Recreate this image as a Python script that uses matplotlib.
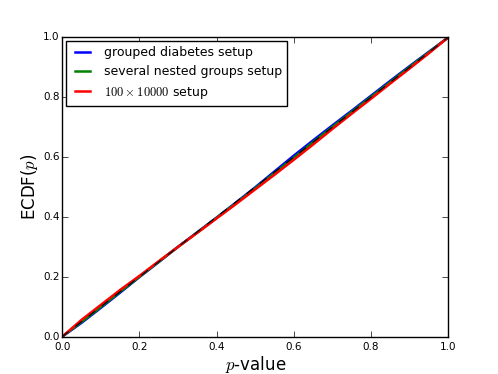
import matplotlib
matplotlib.use("Agg")
import matplotlib.pyplot as plt

# p-value grid and ECDF values
pvals = [0.0, 0.05, 0.10, 0.15, 0.20, 0.25, 0.30, 0.35, 0.40, 0.45, 0.50,
         0.55, 0.60, 0.65, 0.70, 0.75, 0.80, 0.85, 0.90, 0.95, 1.0]
ecdf_diabetes = [0.0, 0.046, 0.096, 0.147, 0.199, 0.249, 0.300, 0.349, 0.398, 0.448, 0.499,
                 0.552, 0.605, 0.656, 0.706, 0.755, 0.805, 0.855, 0.904, 0.952, 1.0]
ecdf_nested = [0.0, 0.049, 0.099, 0.150, 0.200, 0.250, 0.300, 0.348, 0.397, 0.446, 0.496,
               0.547, 0.598, 0.650, 0.701, 0.751, 0.801, 0.851, 0.901, 0.950, 1.0]
ecdf_100x10000 = [0.0, 0.056, 0.106, 0.156, 0.203, 0.252, 0.300, 0.347, 0.395, 0.443, 0.492,
                  0.541, 0.591, 0.642, 0.694, 0.745, 0.795, 0.846, 0.896, 0.947, 1.0]
labels = ["grouped diabetes setup", "several nested groups setup", r"$100\times10000$ setup"]
ticks = [0.0, 0.2, 0.4, 0.6, 0.8, 1.0]

plt.style.use("classic")
plt.rcParams["figure.facecolor"] = "white"
plt.rcParams["savefig.facecolor"] = "white"

fig = plt.figure(figsize=(4.98, 3.74), dpi=100)
ax = fig.add_axes([0.125, 0.1, 0.775, 0.8])

ax.plot(pvals, ecdf_diabetes, color="blue", lw=1.8, label=labels[0])
ax.plot(pvals, ecdf_nested, color="green", lw=1.8, label=labels[1])
ax.plot(pvals, ecdf_100x10000, color="red", lw=1.8, label=labels[2])
ax.plot([0, 1], [0, 1], "k--", lw=0.8, zorder=5)

ax.set_xlim(0, 1)
ax.set_ylim(0, 1)
ax.set_xticks(ticks)
ax.set_yticks(ticks)
ax.tick_params(axis="x", labelsize=7.5, pad=4)
ax.tick_params(axis="y", labelsize=7.5, pad=2)
ax.set_xlabel(r"$p$-value", fontsize=12, labelpad=1)
ax.set_ylabel(r"ECDF($p$)", fontsize=12, labelpad=2)

ax.legend(loc="upper left", fontsize=9, handlelength=1.8, borderaxespad=0.3)

fig.savefig("out.png", dpi=100)
